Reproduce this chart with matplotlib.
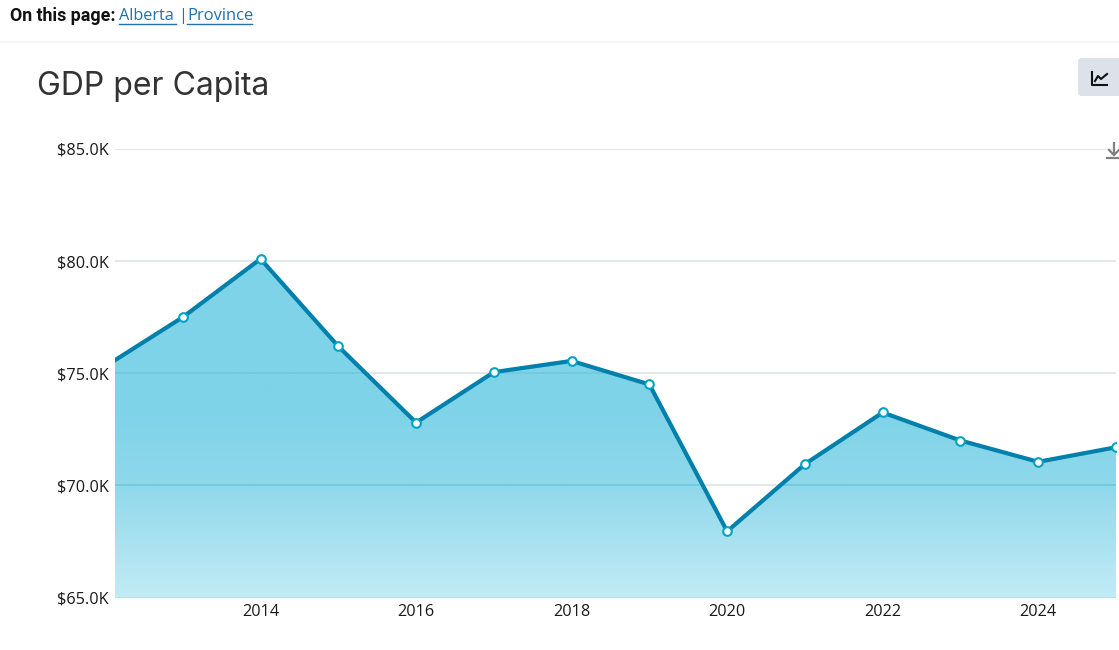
import matplotlib
matplotlib.use("Agg")
import matplotlib.pyplot as plt
import numpy as np
from matplotlib.colors import LinearSegmentedColormap
from matplotlib.patches import FancyBboxPatch

# Values, in thousands of dollars
years = [2012, 2013, 2014, 2015, 2016, 2017, 2018, 2019, 2020, 2021, 2022, 2023, 2024, 2025]
gdp = [75.3, 77.5, 80.1, 76.2, 72.8, 75.05, 75.55, 74.5, 67.95, 70.95, 73.25, 72.0, 71.05, 71.7]
x_ticks = [2014, 2016, 2018, 2020, 2022, 2024]
y_ticks = [65, 70, 75, 80, 85]
y_labels = ["$65.0K", "$70.0K", "$75.0K", "$80.0K", "$85.0K"]

W, H = 1119, 650
LINE = "#0080ab"
LINK = "#1f72ad"
TICK_FONT = ["Open Sans", "DejaVu Sans"]


def px(size):
    # CSS pixels to points at dpi 100
    return size * 0.72


def init_page():
    # Full-figure axes in pixel coordinates for everything around the chart
    fig = plt.figure(figsize=(W / 100, H / 100), dpi=100, facecolor="white")
    page = fig.add_axes([0, 0, 1, 1], zorder=3)
    page.set_xlim(0, W)
    page.set_ylim(H, 0)
    page.axis("off")
    return fig, page


def draw_chart(fig):
    left, right, top, bottom = 115, 1116, 149, 597.5
    ax = fig.add_axes([left / W, 1 - bottom / H, (right - left) / W, (bottom - top) / H], zorder=2)
    ax.patch.set_alpha(0)

    # Area with a flat top colour that fades out near the base
    poly = ax.fill_between(years, gdp, 65, color="none", lw=0)
    area_path = poly.get_paths()[0]
    cmap = LinearSegmentedColormap.from_list(
        "area", [(0, "#c2ebf5"), (0.25, "#8fd8eb"), (0.42, "#7ed3e8"), (1, "#7ed3e8")])
    img = ax.imshow(np.linspace(1, 0, 256).reshape(-1, 1), cmap=cmap, vmin=0, vmax=1, aspect="auto",
                    extent=[2012, 2025, 65, 85], zorder=1)
    img.set_clip_path(area_path, transform=ax.transData)
    ax.set_xlim(2012 + 10 / 77.7, 2025)
    ax.set_ylim(65, 85)

    # Grid is light grey on white but only a slightly darker teal under the area
    for value in y_ticks[1:]:
        ax.axhline(value, color="#e4e7ea", lw=1.4, zorder=0.5)
        inner = ax.axhline(value, color="#72c8dd", lw=1.2, zorder=2)
        inner.set_clip_path(area_path, transform=ax.transData)
    ax.axhline(65, color="#b9dfe8", lw=1.5, zorder=2)

    ax.plot(years, gdp, color=LINE, lw=3, zorder=3, solid_joinstyle="miter")
    ax.plot(years, gdp, ls="none", marker="o", ms=6.2, mfc="white", mec="#00a3c4", mew=1.5, zorder=4)

    for side in ax.spines.values():
        side.set_visible(False)
    ax.set_xticks(x_ticks, [str(y) for y in x_ticks])
    ax.set_yticks(y_ticks, y_labels)
    ax.tick_params(axis="both", length=0, labelcolor="#1a1a1a", labelsize=px(16.3))
    ax.tick_params(axis="x", pad=5)
    ax.tick_params(axis="y", pad=4.5)
    for label in ax.get_xticklabels() + ax.get_yticklabels():
        label.set_fontfamily(TICK_FONT)
    return ax


def draw_header(page):
    page.plot([0, W], [42, 42], color="#f4f4f4", lw=1.2)
    page.text(10, 16, "On this page:", fontsize=px(17.7), fontweight="bold", family="Roboto",
              color="#111111", va="center")
    page.text(119, 16, "Alberta", fontsize=px(16.2), family=TICK_FONT, color=LINK, va="center")
    page.text(178, 16, "|", fontsize=px(16.2), family=TICK_FONT, color=LINK, va="center")
    page.text(187, 16, "Province", fontsize=px(16.5), family=TICK_FONT, color=LINK, va="center")
    page.plot([119, 176], [24, 24], color=LINK, lw=1)
    page.plot([187, 252], [24, 24], color=LINK, lw=1)
    page.text(37, 86, "GDP per Capita", fontsize=px(32), family="Inter", color="#333333", va="center")


def draw_buttons(page):
    # Chart-type button, cut off by the right edge, and the download arrow
    page.add_patch(FancyBboxPatch((1078, 58), 46, 38, boxstyle="round,pad=0,rounding_size=4",
                                  fc="#dde2ea", ec="none"))
    page.plot([1092, 1092, 1107], [72, 85, 85], color="#111111", lw=1.5)
    page.plot([1095, 1098, 1101, 1107], [81, 76, 79, 74], color="#111111", lw=1.5)
    page.plot([1114, 1114], [143, 155], color="#808080", lw=1.6)
    page.plot([1109, 1114, 1119], [150, 155, 150], color="#808080", lw=1.6)
    page.plot([1107, 1119], [158, 158], color="#808080", lw=1.6)


def main():
    fig, page = init_page()
    draw_chart(fig)
    draw_header(page)
    draw_buttons(page)
    fig.savefig("out.png", dpi=100)


if __name__ == "__main__":
    main()
